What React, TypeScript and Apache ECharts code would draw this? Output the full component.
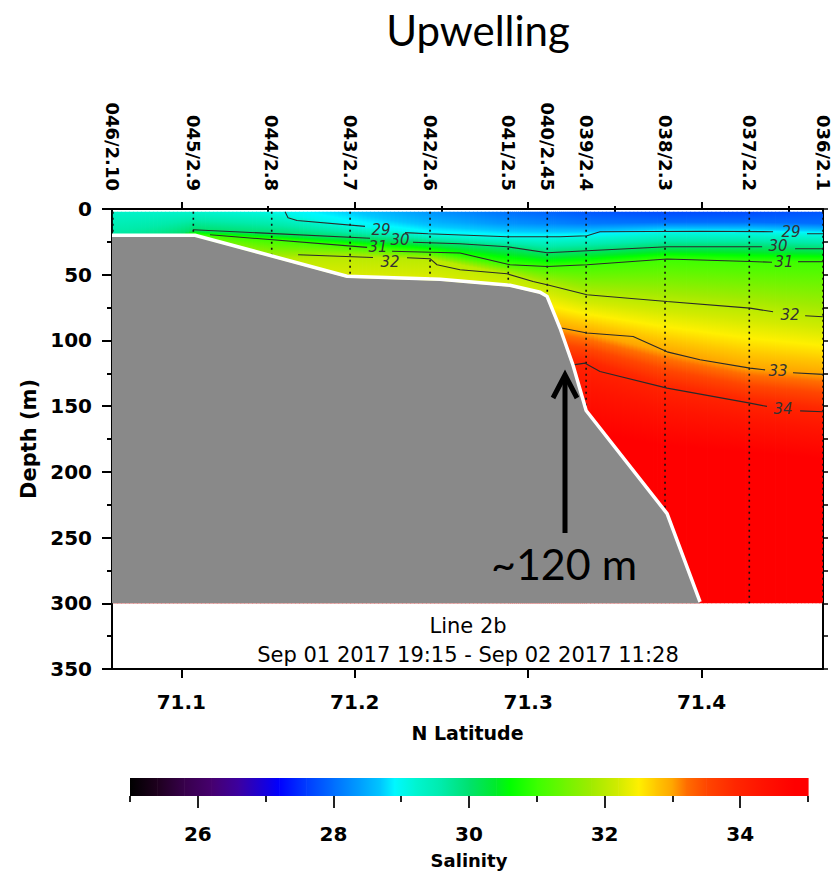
import React, { useEffect, useRef } from 'react';
import * as echarts from 'echarts';

// ---------- stations (top axis) ----------
const stationNames = ['046/2.10', '045/2.9', '044/2.8', '043/2.7', '042/2.6', '041/2.5', '040/2.45', '039/2.4', '038/2.3', '037/2.2', '036/2.1'];
const stationLat = [71.0605, 71.1069, 71.1521, 71.1973, 71.2434, 71.2885, 71.311, 71.3334, 71.3789, 71.4275, 71.47];
const stationBottom = [21, 21, 37, 52, 54.6, 59.2, 65.3, 153, 231, 300, 300];

// ---------- axis ticks ----------
const latMajor = [71.1, 71.2, 71.3, 71.4];
const latMinor = [71.15, 71.25, 71.35, 71.45];
const salMajor = [26, 28, 30, 32, 34];
const salMinor = [25, 27, 29, 31, 33, 35];

// ---------- salinity field: knots per station (depth m / salinity) ----------
const surfaceDepth = [2, 2, 2, 2, 2, 2, 2, 2, 2, 2, 2];
const surfaceSal = [29.3, 29.25, 29.05, 28.7, 28.3, 28.0, 27.9, 27.8, 27.7, 27.7, 27.8];
const upperDepth = [2, 2, 2, 7, 10, 11, 11, 11, 10, 10, 11];
const upperSal = [29.3, 29.25, 29.05, 28.85, 28.55, 28.3, 28.2, 28.1, 28.0, 28.0, 28.0];
const iso29 = [2, 2, 2, 12.3, 18.8, 21.1, 21.1, 20.3, 17.3, 17.5, 18.8];
const iso30 = [36, 15.8, 18.7, 21.5, 25.7, 29.5, 33.3, 31.8, 28.7, 28.7, 30.2];
const iso31 = [40, 19.5, 23.4, 28.2, 32.9, 42.0, 43.7, 42.4, 38.1, 39.9, 40.1];
const iso32 = [44, 26, 38, 36.5, 38.2, 49.3, 57.6, 65.3, 70.4, 75.4, 82.0];
const iso33 = [55, 50, 70, 90, 90, 88, 89, 94.4, 108.7, 121.1, 125.8];
const iso34 = [70, 65, 90, 110, 110, 112, 114, 117.3, 136.3, 147.7, 154.3];
const lowerDepth = [100, 100, 120, 140, 150, 160, 165, 170, 180, 185, 190];
const lowerSal = [34.8, 34.8, 34.8, 34.8, 34.8, 34.8, 34.8, 34.8, 34.8, 34.8, 34.8];
const deepSal = [34.95, 34.95, 34.95, 34.95, 34.95, 34.95, 34.95, 34.95, 34.95, 34.95, 34.95];

// ---------- colormap (colour bar) ----------
const cmapValues = [25, 25.4, 25.8, 26.2, 26.6, 27.2, 27.6, 28.0, 28.4, 28.7, 28.9, 29.2, 29.6, 30.0, 30.4, 30.6, 31.0, 31.4, 31.8, 32.2, 32.5, 32.75, 33.0, 33.2, 33.5, 33.9, 34.3, 34.8, 35];
const cmapColors = ['#000000', '#1e001e', '#37004b', '#46006e', '#3c00a0', '#0000ff', '#003cff', '#006eff', '#00a0ff', '#00c8ff', '#00f8ff', '#00f5d2', '#00ebaa', '#00e16e', '#00eb28', '#00ff00', '#3cff00', '#6ef500', '#a0eb00', '#d2eb00', '#fff000', '#ffc800', '#ffa500', '#ff6e00', '#ff4600', '#ff2800', '#ff1400', '#ff0000', '#ff0000'];

// ---------- bathymetry ----------
const bathyLat = [71.06, 71.1079, 71.1955, 71.2492, 71.2895, 71.3068, 71.3109, 71.3184, 71.3259, 71.3334, 71.3801, 71.3991];
const bathyDepth = [21.1, 21.1, 52.3, 54.6, 59.2, 64.5, 67.6, 91.9, 120.2, 154.5, 232.9, 300];

// ---------- contour lines (segments of [lat, depth]) ----------
const contour29 = [
  [[71.1598, 2.1], [71.1615, 6.6], [71.1667, 8.7], [71.2059, 13.2]],
  [[71.229, 18.0], [71.2422, 18.8], [71.2878, 21.1], [71.3184, 21.1], [71.3339, 20.3], [71.3414, 17.3], [71.3991, 16.9], [71.4412, 17.3]],
  [[71.4608, 18.8], [71.47, 18.8]],
];
const contour30 = [
  [[71.1067, 15.8], [71.2088, 22.2]],
  [[71.2336, 25.3], [71.2607, 26.4], [71.2878, 28.7], [71.3109, 33.3], [71.3339, 31.8], [71.3801, 28.7], [71.4349, 28.7]],
  [[71.4539, 30.2], [71.47, 30.2]],
];
const contour31 = [
  [[71.1165, 19.6], [71.2071, 29.2]],
  [[71.2215, 32.1], [71.2607, 33.5], [71.2895, 42.4], [71.3109, 43.7], [71.3339, 42.4], [71.3801, 38.1], [71.4279, 39.9], [71.4406, 40.5]],
  [[71.4556, 40.1], [71.47, 40.1]],
];
const contour32 = [
  [[71.1673, 34.8], [71.2105, 36.9]],
  [[71.2301, 37.1], [71.2434, 37.8], [71.2474, 42.4], [71.2607, 46.2], [71.2878, 49.3], [71.3028, 55.1], [71.3109, 57.6], [71.3339, 65.3], [71.3801, 70.4], [71.4279, 75.4], [71.4412, 78.2]],
  [[71.4597, 81.2], [71.47, 82.0]],
];
const contour33 = [
  [[71.3184, 90.4], [71.3339, 94.4], [71.3605, 97.0], [71.3801, 108.7], [71.3991, 114.7], [71.4279, 121.1], [71.4366, 122.4]],
  [[71.4527, 124.6], [71.47, 125.8]],
];
const contour34 = [
  [[71.3259, 118.6], [71.3328, 117.3], [71.3414, 123.7], [71.3801, 136.3], [71.4279, 147.7], [71.4377, 150.2]],
  [[71.4568, 153.6], [71.47, 154.3]],
];
const contourLabelText = ['29', '30', '31', '32', '29', '30', '31', '32', '33', '34'];
const contourLabelPos = [
  [71.2151, 15.8], [71.2261, 23.4], [71.2134, 28.7], [71.2203, 40.1],
  [71.4516, 17.8], [71.4441, 27.9], [71.4475, 40.6], [71.451, 80.5], [71.4441, 123.1], [71.447, 152.3],
];

// ---------- helpers ----------
function hexToRgb(h: string) {
  const n = parseInt(h.slice(1), 16);
  return [(n >> 16) & 255, (n >> 8) & 255, n & 255];
}
const cmapRgb = cmapColors.map(hexToRgb);
function salColor(v: number) {
  const vs = cmapValues;
  if (v <= vs[0]) return cmapColors[0];
  if (v >= vs[vs.length - 1]) return cmapColors[vs.length - 1];
  for (let i = 0; i < vs.length - 1; i++) {
    if (v <= vs[i + 1]) {
      const t = (v - vs[i]) / (vs[i + 1] - vs[i]);
      const a = cmapRgb[i], b = cmapRgb[i + 1];
      return `rgb(${Math.round(a[0] + (b[0] - a[0]) * t)},${Math.round(a[1] + (b[1] - a[1]) * t)},${Math.round(a[2] + (b[2] - a[2]) * t)})`;
    }
  }
  return cmapColors[vs.length - 1];
}
function profile(s: number) {
  return [
    [surfaceDepth[s], surfaceSal[s]],
    [upperDepth[s], upperSal[s]],
    [iso29[s], Math.max(29, surfaceSal[s])],
    [iso30[s], 30],
    [iso31[s], 31],
    [iso32[s], 32],
    [iso33[s], 33],
    [iso34[s], 34],
    [lowerDepth[s], lowerSal[s]],
    [300, deepSal[s]],
  ];
}
function buildStops(knots: number[][], top: number, bottom: number) {
  const stops: { offset: number; color: string }[] = [];
  const push = (d: number, s: number) => {
    let off = (d - top) / (bottom - top);
    off = Math.min(1, Math.max(0, off));
    if (stops.length && off < stops[stops.length - 1].offset) off = stops[stops.length - 1].offset;
    stops.push({ offset: off, color: salColor(s) });
  };
  for (let k = 0; k < knots.length - 1; k++) {
    const [da, sa] = knots[k];
    const [db, sb] = knots[k + 1];
    if (k === 0) push(da, sa);
    if (db > da && sb !== sa) {
      const mids: number[][] = [];
      for (const v of cmapValues) {
        if ((v - sa) * (v - sb) < 0) mids.push([da + ((v - sa) / (sb - sa)) * (db - da), v]);
      }
      mids.sort((p, q) => p[0] - q[0]);
      mids.forEach((m) => push(m[0], m[1]));
    }
    push(db, sb);
  }
  return stops;
}

const tickFont = { fontFamily: 'DejaVu Sans', fontWeight: 'bold' as const, fontSize: 20, color: '#000' };
const blackLine = { color: '#000', width: 2 };

function buildOption() {
  const N = 20;
  const fieldSeries = {
    type: 'custom',
    xAxisIndex: 0,
    yAxisIndex: 0,
    z: 1,
    silent: true,
    clip: true,
    data: stationLat.slice(0, -1).map((lat, i) => [lat, 0, i]),
    renderItem: (params: any, api: any) => {
      const i = params.dataIndex;
      const A = profile(i);
      const B = profile(i + 1);
      const children: any[] = [];
      for (let j = 0; j < N; j++) {
        const t0 = j / N, t1 = (j + 1) / N, tm = (j + 0.5) / N;
        const lat0 = stationLat[i] + (stationLat[i + 1] - stationLat[i]) * t0;
        const lat1 = stationLat[i] + (stationLat[i + 1] - stationLat[i]) * t1;
        const knots = A.map((k, idx) => [k[0] + (B[idx][0] - k[0]) * tm, k[1] + (B[idx][1] - k[1]) * tm]);
        const top = knots[0][0];
        const bottom = 300;
        const p0 = api.coord([lat0, top]);
        const p1 = api.coord([lat1, bottom]);
        children.push({
          type: 'rect',
          shape: { x: p0[0], y: p0[1], width: p1[0] - p0[0] + 0.8, height: p1[1] - p0[1] },
          style: { fill: new echarts.graphic.LinearGradient(0, 0, 0, 1, buildStops(knots, top, bottom)) },
        });
      }
      return { type: 'group', children };
    },
  };

  const stationSeries = {
    type: 'custom',
    xAxisIndex: 0,
    yAxisIndex: 0,
    z: 2,
    silent: true,
    clip: true,
    data: stationLat.map((lat, i) => [lat, stationBottom[i], i]),
    renderItem: (params: any, api: any) => {
      const i = params.dataIndex;
      const a = api.coord([stationLat[i], 2]);
      const b = api.coord([stationLat[i], stationBottom[i]]);
      return {
        type: 'line',
        shape: { x1: a[0], y1: a[1], x2: b[0], y2: b[1] },
        style: { stroke: '#111', lineWidth: 1.6, lineDash: [2, 4] },
      };
    },
  };

  const contourSets = [contour29, contour30, contour31, contour32, contour33, contour34];
  const contourSeries: any[] = [];
  contourSets.forEach((segs) =>
    segs.forEach((seg) =>
      contourSeries.push({
        type: 'line',
        xAxisIndex: 0,
        yAxisIndex: 0,
        z: 3,
        silent: true,
        symbol: 'none',
        data: seg,
        lineStyle: { color: '#2a2a2a', width: 1.1 },
      })
    )
  );

  const labelSeries = {
    type: 'custom',
    xAxisIndex: 0,
    yAxisIndex: 0,
    z: 4,
    silent: true,
    data: contourLabelPos.map((p, i) => [p[0], p[1], i]),
    renderItem: (params: any, api: any) => {
      const i = params.dataIndex;
      const p = api.coord(contourLabelPos[i]);
      return {
        type: 'text',
        x: p[0],
        y: p[1],
        style: {
          text: contourLabelText[i],
          fontFamily: 'DejaVu Sans',
          fontStyle: 'italic',
          fontSize: 15,
          fill: '#333',
          align: 'center',
          verticalAlign: 'middle',
        },
      };
    },
  };

  const bathySeries = {
    type: 'custom',
    xAxisIndex: 0,
    yAxisIndex: 0,
    z: 5,
    silent: true,
    clip: true,
    data: [[bathyLat[0], bathyDepth[0]]],
    renderItem: (params: any, api: any) => {
      const pts = bathyLat.map((lat, i) => api.coord([lat, bathyDepth[i]]));
      const poly = pts.concat([api.coord([bathyLat[0], 300])]);
      const outline = pts.map((p: number[]) => [p[0], p[1] - 1.5]);
      return {
        type: 'group',
        children: [
          { type: 'polygon', shape: { points: poly }, style: { fill: '#898989', stroke: null } },
          { type: 'polyline', shape: { points: outline }, style: { stroke: '#fff', lineWidth: 3.5, fill: null } },
        ],
      };
    },
  };

  const colorbarSeries = {
    type: 'custom',
    xAxisIndex: 4,
    yAxisIndex: 2,
    z: 2,
    silent: true,
    data: cmapValues.slice(0, -1).map((v, i) => [v, 0, i]),
    renderItem: (params: any, api: any) => {
      const i = params.dataIndex;
      const a = api.coord([cmapValues[i], 1]);
      const b = api.coord([cmapValues[i + 1], 0]);
      return {
        type: 'rect',
        shape: { x: a[0], y: a[1], width: b[0] - a[0] + 0.6, height: b[1] - a[1] },
        style: {
          fill: new echarts.graphic.LinearGradient(0, 0, 1, 0, [
            { offset: 0, color: cmapColors[i] },
            { offset: 1, color: cmapColors[i + 1] },
          ]),
        },
      };
    },
  };

  const nearestStation = (v: number) => {
    let best = 0;
    for (let k = 1; k < stationLat.length; k++) {
      if (Math.abs(stationLat[k] - v) < Math.abs(stationLat[best] - v)) best = k;
    }
    return stationNames[best];
  };

  return {
    animation: false,
    backgroundColor: '#ffffff',
    grid: [
      { left: 112, top: 209, width: 711, height: 460, containLabel: false, outerBoundsMode: 'none' },
      { left: 130, top: 778, width: 678, height: 18, containLabel: false, outerBoundsMode: 'none' },
    ],
    xAxis: [
      {
        type: 'value', gridIndex: 0, position: 'bottom', min: 71.06, max: 71.47,
        axisLine: { show: true, onZero: false, lineStyle: blackLine },
        axisTick: { show: true, customValues: latMajor, length: 9, lineStyle: blackLine },
        axisLabel: { show: true, customValues: latMajor, formatter: (v: number) => v.toFixed(1), margin: 23, ...tickFont },
        splitLine: { show: false },
        name: 'N Latitude', nameLocation: 'middle', nameGap: 54,
        nameTextStyle: { ...tickFont, fontSize: 19 },
      },
      {
        type: 'value', gridIndex: 0, position: 'bottom', min: 71.06, max: 71.47,
        axisLine: { show: false },
        axisTick: { show: true, customValues: latMinor, length: 4, lineStyle: blackLine },
        axisLabel: { show: false },
        splitLine: { show: false },
      },
      {
        type: 'value', gridIndex: 0, position: 'top', min: 71.06, max: 71.47,
        axisLine: { show: true, onZero: false, lineStyle: blackLine },
        axisTick: { show: true, customValues: latMajor, length: 7, lineStyle: blackLine },
        axisLabel: { show: true, customValues: stationLat, formatter: nearestStation, rotate: 90, margin: 18, ...tickFont, fontSize: 18 },
        splitLine: { show: false },
      },
      {
        type: 'value', gridIndex: 0, position: 'top', min: 71.06, max: 71.47,
        axisLine: { show: false },
        axisTick: { show: true, customValues: latMinor, length: 3, lineStyle: blackLine },
        axisLabel: { show: false },
        splitLine: { show: false },
      },
      {
        type: 'value', gridIndex: 1, position: 'bottom', min: 25, max: 35,
        axisLine: { show: false },
        axisTick: { show: true, customValues: salMajor, length: 12, lineStyle: { color: '#222', width: 2 } },
        axisLabel: { show: true, customValues: salMajor, margin: 28, ...tickFont },
        splitLine: { show: false },
        name: 'Salinity', nameLocation: 'middle', nameGap: 55,
        nameTextStyle: { ...tickFont, fontSize: 18 },
      },
      {
        type: 'value', gridIndex: 1, position: 'bottom', min: 25, max: 35,
        axisLine: { show: false },
        axisTick: { show: true, customValues: salMinor, length: 6, lineStyle: { color: '#222', width: 2 } },
        axisLabel: { show: false },
        splitLine: { show: false },
      },
    ],
    yAxis: [
      {
        type: 'value', gridIndex: 0, position: 'left', inverse: true, min: 0, max: 350, interval: 50,
        axisLine: { show: true, onZero: false, lineStyle: blackLine },
        axisTick: { show: true, length: 10, lineStyle: blackLine },
        minorTick: { show: true, splitNumber: 2, length: 5, lineStyle: blackLine },
        axisLabel: { margin: 20, ...tickFont },
        splitLine: { show: false },
        minorSplitLine: { show: false },
        name: 'Depth (m)', nameLocation: 'middle', nameGap: 72, nameRotate: 90,
        nameTextStyle: { ...tickFont, fontSize: 21 },
      },
      {
        type: 'value', gridIndex: 0, position: 'right', inverse: true, min: 0, max: 350, interval: 25,
        axisLine: { show: true, onZero: false, lineStyle: blackLine },
        axisTick: { show: true, length: 5, lineStyle: { color: '#000', width: 1.5 } },
        axisLabel: { show: false },
        splitLine: { show: false },
      },
      { type: 'value', gridIndex: 1, min: 0, max: 1, show: false },
    ],
    series: [fieldSeries, stationSeries, ...contourSeries, labelSeries, bathySeries, colorbarSeries],
    graphic: [
      {
        type: 'text', x: 478, y: 30, z: 100,
        style: { text: 'Upwelling', fontFamily: 'Lato', fontSize: 42, fill: '#000', align: 'center', verticalAlign: 'middle' },
      },
      {
        type: 'text', x: 468, y: 626, z: 100,
        style: { text: 'Line 2b', fontFamily: 'DejaVu Sans', fontSize: 21, fill: '#000', align: 'center', verticalAlign: 'middle' },
      },
      {
        type: 'text', x: 468, y: 655, z: 100,
        style: { text: 'Sep 01 2017 19:15 - Sep 02 2017 11:28', fontFamily: 'DejaVu Sans', fontSize: 21, fill: '#000', align: 'center', verticalAlign: 'middle' },
      },
      {
        type: 'line', z: 100,
        shape: { x1: 565, y1: 533, x2: 565, y2: 380 },
        style: { stroke: '#000', lineWidth: 5 },
      },
      {
        type: 'polyline', z: 100,
        shape: { points: [[553, 398], [565, 375], [577, 398]] },
        style: { stroke: '#000', lineWidth: 5, fill: null, lineJoin: 'miter' },
      },
      {
        type: 'text', x: 564, y: 563, z: 100,
        style: { text: '~120 m', fontFamily: 'Lato', fontSize: 43, fill: '#000', align: 'center', verticalAlign: 'middle' },
      },
    ],
  };
}

export default function App() {
  const ref = useRef<HTMLDivElement>(null);
  useEffect(() => {
    if (!ref.current) return;
    const chart = echarts.init(ref.current, null, { renderer: 'svg' });
    chart.setOption(buildOption() as any);
    return () => chart.dispose();
  }, []);
  return (
    <div
      ref={ref}
      style={{ position: 'absolute', left: 0, top: 0, width: 831, height: 875, background: '#fff' }}
    />
  );
}
